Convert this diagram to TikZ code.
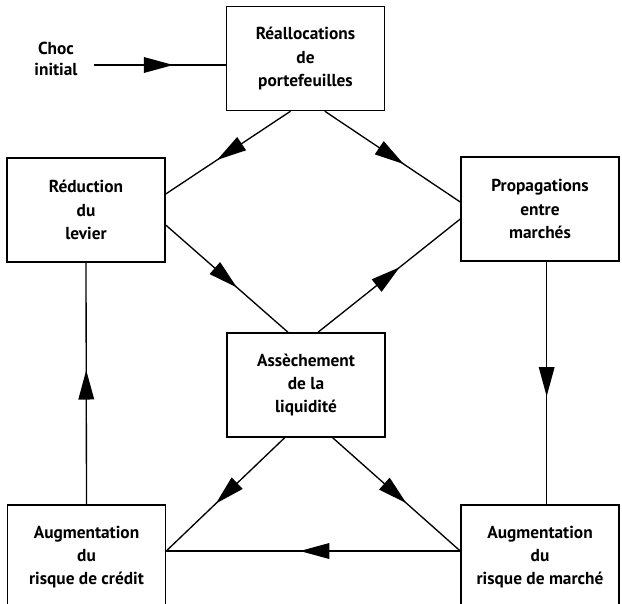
\documentclass[tikz,border=0pt]{standalone}
\usepackage{fontspec}
\setmainfont{PT Sans}
\usetikzlibrary{decorations.markings}
\tikzset{
  box/.style={draw, line width=1.1pt, minimum width=118.5pt, minimum height=78pt,
    align=center, inner sep=2pt, font=\bfseries\fontsize{13}{17.5}\selectfont},
  lbl/.style={align=center, font=\bfseries\fontsize{13}{15.5}\selectfont},
  conn/.style={line width=1pt, postaction={decorate},
    decoration={markings, mark=at position 0.5 with {\fill (10pt,0) -- (-12pt,6pt) -- (-12pt,-6pt) -- cycle;}}}
}
\begin{document}
\begin{tikzpicture}[x=0.75pt,y=-0.75pt]
\clip (0,0) rectangle (622,604);
\node[lbl] (choc) at (56,59) {Choc\\initial};
\coordinate (c0) at (94,65);
\node[box] (ra) at (305.5,58.5) {Réallocations\\de\\portefeuilles};
\node[box] (rd) at (86,210) {Réduction\\du\\levier};
\node[box] (pr) at (540,209) {Propagations\\entre\\marchés};
\node[box] (as) at (306,385) {Assèchement\\de la\\liquidité};
\node[box] (cr) at (86.5,557) {Augmentation\\du\\risque de crédit};
\node[box] (ma) at (540,557) {Augmentation\\du\\risque de marché};

\draw[conn] (c0) -- (ra.west |- c0);
\draw[conn] ([xshift=-11.25pt]ra.south) -- ([yshift=12pt]rd.east);
\draw[conn] ([xshift=14.5pt]ra.south) -- ([yshift=5.25pt]pr.west);
\draw[conn] ([yshift=-11.25pt]rd.east) -- ([xshift=-13.5pt]as.north);
\draw[conn] ([xshift=9pt]as.north) -- ([yshift=-7.5pt]pr.west);
\draw[conn] ([xshift=5pt]pr.south) -- ([xshift=5pt]pr.south |- ma.north);
\draw[conn] ([xshift=-16pt]as.south) -- ([yshift=4.5pt]cr.east);
\draw[conn] ([xshift=20pt]as.south) -- ([yshift=4.5pt]ma.west);
\draw[conn] ([yshift=4.5pt]ma.west) -- ([yshift=4.5pt]cr.east);
\draw[conn] (cr.north) -- (rd.south);
\end{tikzpicture}
\end{document}
